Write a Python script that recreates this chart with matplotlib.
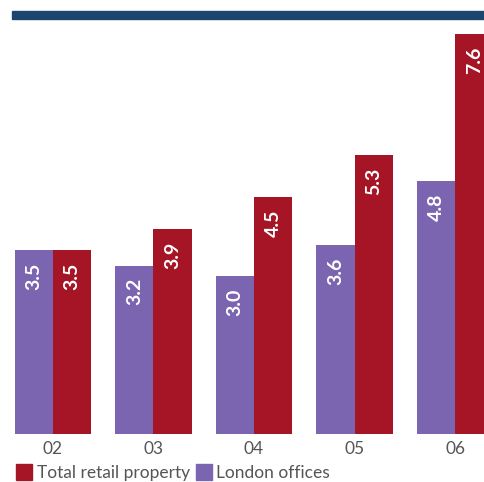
import matplotlib.pyplot as plt
from matplotlib.patches import Rectangle
from matplotlib.lines import Line2D
import numpy as np

# data
years = ["02", "03", "04", "05", "06"]
london_offices = [3.5, 3.2, 3.0, 3.6, 4.8]
total_retail = [3.5, 3.9, 4.5, 5.3, 7.6]

purple = "#7B64B0"
red = "#A51525"
navy = "#1C4670"
grey = "#555555"

plt.rcParams['font.family'] = ['Lato', 'DejaVu Sans']

fig = plt.figure(figsize=(4.85, 4.82), dpi=100)
ax = fig.add_axes([0, 48 / 482, 1, 421 / 482])

x = np.arange(len(years))
w = 0.38
b1 = ax.bar(x - w / 2, london_offices, w, color=purple)
b2 = ax.bar(x + w / 2, total_retail, w, color=red)

for bars, vals in ((b1, london_offices), (b2, total_retail)):
    for bar, v in zip(bars, vals):
        ax.text(bar.get_x() + bar.get_width() / 2, v - 0.24, f"{v:.1f}",
                rotation=90, ha="center", va="top", color="white",
                fontsize=14, fontweight="bold")

ax.set_xlim(-0.527, 4.298)
ax.set_ylim(0, 8)
ax.set_xticks(x)
ax.set_xticklabels(years, fontsize=12.5, color=grey)
ax.tick_params(axis="x", length=0, pad=5)
ax.set_yticks([])
for s in ax.spines.values():
    s.set_visible(False)

# header bar
fig.add_artist(Rectangle((12 / 485, 1 - 19 / 482), 1, 8 / 482,
                         transform=fig.transFigure, color=navy, clip_on=False))

handles = [Line2D([], [], marker="s", linestyle="", markersize=11, color=red),
           Line2D([], [], marker="s", linestyle="", markersize=11, color=purple)]
fig.legend(handles, ["Total retail property", "London offices"],
           loc="lower left", bbox_to_anchor=(14 / 485, -0.005), ncol=2,
           frameon=False, fontsize=12.5, labelcolor=grey,
           handlelength=0.8, handletextpad=0.3, columnspacing=0.4,
           borderaxespad=0.0, borderpad=0.2)

fig.savefig("out.png", dpi=100)
